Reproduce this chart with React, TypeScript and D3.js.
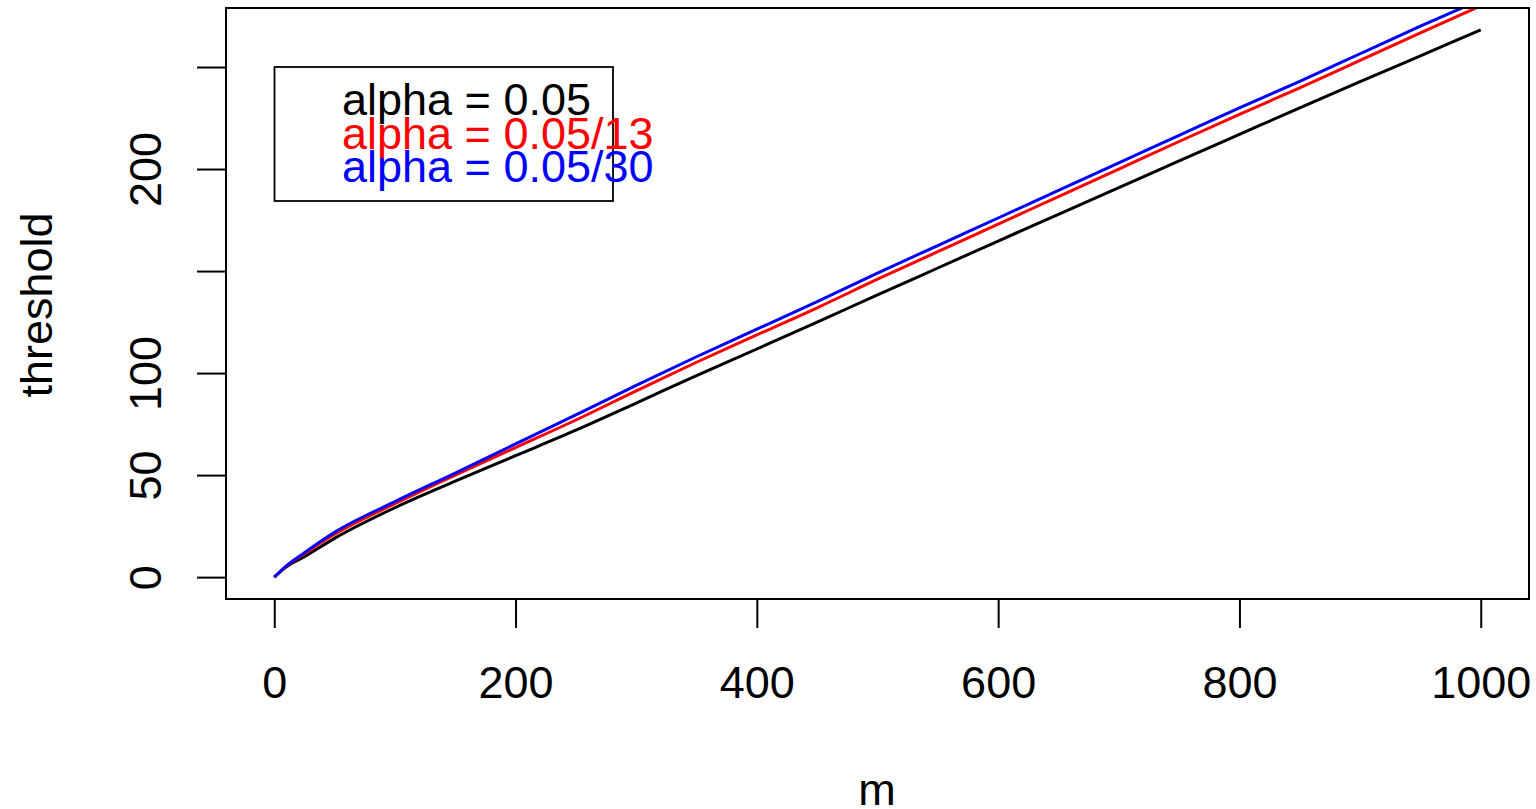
import React, { useEffect, useRef } from "react";
import * as d3 from "d3";

// values
const mValues = [0, 10, 25, 50, 100, 150, 200, 250, 300, 350, 400, 450, 500, 550, 600, 650, 700, 750, 800, 850, 900, 950, 1000];
const threshold005 = [0, 5, 10, 19, 34, 47, 59.5, 72, 85.3, 98.8, 111.8, 125, 138.3, 151.5, 164.7, 177.8, 190.9, 204, 217, 230, 242.8, 255.5, 268.2];
const threshold005_13 = [0, 5.3, 11.5, 21, 36, 50, 63.5, 77, 91.3, 105.3, 118.7, 132, 146, 159.5, 173, 186.5, 200, 213.5, 226.8, 239.8, 253.3, 266.7, 280];
const threshold005_30 = [0, 5.5, 12, 22, 37, 51, 65.3, 79.5, 94, 108, 121.5, 135, 149, 162.5, 176, 189.5, 203, 216.5, 230, 243, 256.5, 270, 283];

const seriesNames = ["alpha = 0.05", "alpha = 0.05/13", "alpha = 0.05/30"];
const seriesColors = ["#000000", "#FF0000", "#0000FF"];

const xTicks = [0, 200, 400, 600, 800, 1000];
const yTicks = [0, 50, 100, 150, 200, 250];
const yTickLabels = ["0", "50", "100", "", "200", ""];

const FONT = "'Liberation Sans', Arial, sans-serif";

export default function App() {
  const ref = useRef<SVGSVGElement>(null);

  useEffect(() => {
    const W = 1536;
    const H = 809;
    const box = { left: 226, right: 1529, top: 8, bottom: 599 };

    const svg = d3.select(ref.current);
    svg.selectAll("*").remove();
    svg.attr("width", W).attr("height", H);

    // R style ranges: data range padded 4% on each side
    const xScale = d3.scaleLinear().domain([-40, 1040]).range([box.left, box.right]);
    const yMin = 0;
    const yMax = d3.max(threshold005) as number;
    const pad = (yMax - yMin) * 0.04;
    const yScale = d3.scaleLinear().domain([yMin - pad, yMax + pad]).range([box.bottom, box.top]);

    svg.append("defs")
      .append("clipPath")
      .attr("id", "plotclip")
      .append("rect")
      .attr("x", box.left)
      .attr("y", box.top)
      .attr("width", box.right - box.left)
      .attr("height", box.bottom - box.top);

    // lines
    const allSeries = [threshold005, threshold005_13, threshold005_30];
    const line = d3.line<number>()
      .x((d, i) => xScale(mValues[i]))
      .y((d) => yScale(d))
      .curve(d3.curveMonotoneX);

    svg.append("g")
      .attr("clip-path", "url(#plotclip)")
      .selectAll("path")
      .data(allSeries)
      .join("path")
      .attr("d", (d) => line(d))
      .attr("fill", "none")
      .attr("stroke", (d, i) => seriesColors[i])
      .attr("stroke-width", 3)
      .attr("stroke-linejoin", "round");

    // X axis
    const xAxis = svg.append("g")
      .attr("transform", `translate(0, ${box.bottom})`)
      .call(d3.axisBottom(xScale).tickValues(xTicks).tickSize(29).tickSizeOuter(0).tickFormat((d) => String(d)));
    xAxis.select(".domain").remove();
    xAxis.selectAll(".tick line").attr("stroke", "#000").attr("stroke-width", 2);
    xAxis.selectAll(".tick text")
      .attr("y", 99)
      .attr("dy", 0)
      .attr("fill", "#000")
      .style("font-family", FONT)
      .style("font-size", "45px");

    // Y axis
    const yAxis = svg.append("g")
      .attr("transform", `translate(${box.left}, 0)`)
      .call(d3.axisLeft(yScale).tickValues(yTicks).tickSize(29).tickSizeOuter(0).tickFormat((d, i) => yTickLabels[i]));
    yAxis.select(".domain").remove();
    yAxis.selectAll(".tick line").attr("stroke", "#000").attr("stroke-width", 2);
    yAxis.selectAll(".tick text")
      .attr("transform", "rotate(-90)")
      .attr("x", 0)
      .attr("y", -65)
      .attr("dy", 0)
      .attr("text-anchor", "middle")
      .attr("fill", "#000")
      .style("font-family", FONT)
      .style("font-size", "45px");

    // plot box
    svg.append("rect")
      .attr("x", box.left)
      .attr("y", box.top)
      .attr("width", box.right - box.left)
      .attr("height", box.bottom - box.top)
      .attr("fill", "none")
      .attr("stroke", "#000")
      .attr("stroke-width", 2);

    // axis titles
    svg.append("text")
      .attr("x", 877)
      .attr("y", 805)
      .attr("text-anchor", "middle")
      .style("font-family", FONT)
      .style("font-size", "45px")
      .text("m");

    svg.append("text")
      .attr("transform", "translate(52, 305) rotate(-90)")
      .attr("text-anchor", "middle")
      .style("font-family", FONT)
      .style("font-size", "45px")
      .text("threshold");

    // legend
    const legend = svg.append("g");
    legend.append("rect")
      .attr("x", 274.5)
      .attr("y", 67)
      .attr("width", 338.5)
      .attr("height", 134)
      .attr("fill", "none")
      .attr("stroke", "#000")
      .attr("stroke-width", 1.8);

    legend.selectAll("text")
      .data(seriesNames)
      .join("text")
      .attr("x", 342)
      .attr("y", (d, i) => 115 + i * 33.5)
      .attr("fill", (d, i) => seriesColors[i])
      .style("font-family", FONT)
      .style("font-size", "45px")
      .text((d) => d);
  }, []);

  return (
    <svg ref={ref} style={{ position: "absolute", left: 0, top: 0, display: "block" }}></svg>
  );
}
